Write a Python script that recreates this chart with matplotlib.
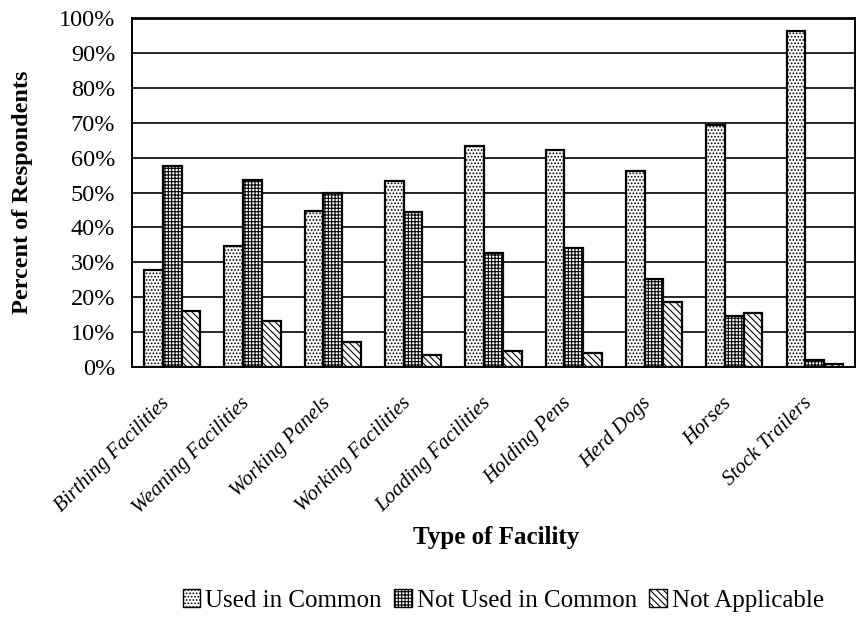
import numpy as np
import matplotlib
matplotlib.use('agg')
from matplotlib import pyplot as plt
from matplotlib import transforms
from matplotlib.patches import Patch

# survey results, percent of respondents per facility type
facilities = ['Birthing Facilities', 'Weaning Facilities', 'Working Panels',
              'Working Facilities', 'Loading Facilities', 'Holding Pens',
              'Herd Dogs', 'Horses', 'Stock Trailers']
used_common = [27.8, 34.8, 44.7, 53.3, 63.4, 62.1, 56.1, 69.3, 96.3]
not_used_common = [57.7, 53.5, 49.9, 44.3, 32.6, 34.2, 25.2, 14.6, 2.0]
not_applicable = [16.1, 13.2, 7.1, 3.6, 4.6, 3.9, 18.6, 15.6, 0.8]
series_names = ['Used in Common', 'Not Used in Common', 'Not Applicable']
yticks = [0, 10, 20, 30, 40, 50, 60, 70, 80, 90, 100]

plt.rcParams['font.family'] = ['Liberation Serif', 'DejaVu Serif']
plt.rcParams['hatch.linewidth'] = 0.8

fig = plt.figure(figsize=(8.56, 6.18), dpi=100)
ax = fig.add_axes([0.1542, 0.406, 0.8445, 0.565])

x = np.arange(len(facilities))
w = 0.233
hatches = ['.....', '+++++', '\\\\\\\\\\']
series = [used_common, not_used_common, not_applicable]
for i, vals in enumerate(series):
    ax.bar(x + (i - 1) * w, vals, width=w, facecolor='white', edgecolor='black',
           hatch=hatches[i], linewidth=1.6, zorder=3)

ax.set_xlim(-0.5, len(facilities) - 0.5)
ax.set_ylim(0, 100)
ax.set_yticks(yticks)
ax.set_yticklabels([str(t) + '%' for t in yticks], fontsize=17.5)
ax.yaxis.grid(True, color='black', linewidth=1.2, zorder=0)
ax.set_axisbelow(True)
ax.tick_params(axis='y', length=0, pad=12)
ax.tick_params(axis='x', length=0, pad=18)
ax.set_xticks(x)
ax.set_xticklabels(facilities, rotation=45, ha='right', va='top',
                   rotation_mode='anchor', fontsize=15, style='italic')
# nudge the slanted labels left so they end just under their group
shift = transforms.ScaledTranslation(-12 / 100, -2 / 100, fig.dpi_scale_trans)
for lbl in ax.get_xticklabels():
    lbl.set_transform(lbl.get_transform() + shift)
for s in ax.spines.values():
    s.set_linewidth(1.4)
    s.set_color('black')
ax.spines['top'].set_linewidth(2.0)

ax.set_ylabel('Percent of Respondents', fontsize=17.5, fontweight='bold')
ax.yaxis.set_label_coords(-0.137, 0.5)
fig.text(0.58, 0.131, 'Type of Facility', fontsize=18, fontweight='bold',
         ha='center', va='center')

handles = [Patch(facecolor='white', edgecolor='black', hatch=hatches[i], linewidth=1.0)
           for i in range(3)]
fig.legend(handles, series_names, loc='center', bbox_to_anchor=(0.588, 0.028),
           ncol=3, frameon=False, fontsize=18, handlelength=0.7, handleheight=0.7,
           handletextpad=0.2, columnspacing=0.5)

fig.savefig('out.png', dpi=100)
